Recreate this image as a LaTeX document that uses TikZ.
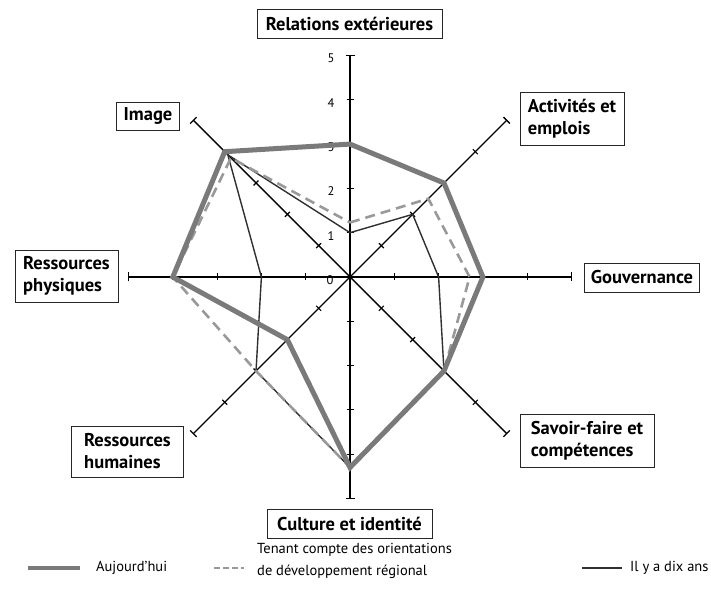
\documentclass[tikz,border=0pt]{standalone}
\usepackage{fontspec}
\setmainfont{PT Sans}
\usetikzlibrary{calc}
\definecolor{nowgray}{HTML}{7A7A7A}
\definecolor{plangray}{HTML}{999999}
\definecolor{pastgray}{HTML}{303030}
\begin{document}
\begin{tikzpicture}[x=1pt,y=1pt,
  lbl/.style={draw=black!85, line width=0.8pt, fill=white,
    font=\bfseries\fontsize{18.5}{22}\selectfont, align=left,
    inner xsep=5pt, inner ysep=3pt},
  axisline/.style={line width=1.4pt, black},
  tickline/.style={line width=1.2pt, black},
  numlbl/.style={font=\fontsize{12.5}{14}\selectfont, inner sep=0pt},
  nowline/.style={line width=5pt, nowgray},
  planline/.style={line width=2.6pt, plangray, dash pattern=on 10pt off 6pt},
  pastline/.style={line width=1.4pt, pastgray},
  legtxt/.style={font=\fontsize{14.5}{22}\selectfont, align=left, inner sep=0pt, anchor=west}
]
\useasboundingbox (0,0) rectangle (711,609);
\def\u{44.3}
\coordinate (O) at (350,332);

% axes
\foreach \a/\n [evaluate=\a as \ap using \a+90, evaluate=\a as \am using \a-90] in {90/N,45/NE,0/E,-45/SE,-90/S,-135/SW,180/W,135/NW} {
  \coordinate (end\n) at ($(O)+(\a:5*\u)$);
  \draw[axisline] (O) -- (end\n);
  \draw[axisline] ($(end\n)+(\ap:4.5)$) -- ($(end\n)+(\am:4.5)$);
  \foreach \k in {1,...,4}
    \draw[tickline] ($(O)+(\a:\k*\u)+(\ap:3.5)$) -- ($(O)+(\a:\k*\u)+(\am:3.5)$);
}

% axis numbers
\foreach \k in {1,...,5}
  \node[numlbl] (num\k) at ($(O)+(-19,\k*\u-3)$) {\k};
\node[numlbl] (num0) at ($(O)+(-20,-3)$) {0};

% data points
\foreach \a/\n/\vnow/\vplan/\vpast in {90/N/3/1.23/1,45/NE/3/2.5/2,0/E/3/2.7/2,-45/SE/3/3/3,-90/S/4.3/4.3/4.3,-135/SW/2/3/3,180/W/4/4/2,135/NW/4/3.8/3.9} {
  \coordinate (now\n) at ($(O)+(\a:\vnow*\u)$);
  \coordinate (plan\n) at ($(O)+(\a:\vplan*\u)$);
  \coordinate (past\n) at ($(O)+(\a:\vpast*\u)$);
}

\draw[pastline] (pastN) -- (pastNE) -- (pastE) -- (pastSE) -- (pastS) -- (pastSW) -- (pastW) -- (pastNW) -- cycle;
\draw[planline] (planN) -- (planNE) -- (planE) -- (planSE) -- (planS) -- (planSW) -- (planW) -- (planNW) -- cycle;
\draw[nowline] (nowN) -- (nowNE) -- (nowE) -- (nowSE) -- (nowS) -- (nowSW) -- (nowW) -- (nowNW) -- cycle;

% axis labels
\node[lbl, minimum width=185pt, minimum height=29pt] (lN) at (349.5,585.5) {Relations extérieures};
\node[lbl, minimum width=104pt, minimum height=53pt] (lNE) at (572,490) {Activités et\\emplois};
\node[lbl, minimum width=115pt, minimum height=29pt] (lE) at (642,331.5) {Gouvernance};
\node[lbl, minimum width=134pt, minimum height=53pt] (lSE) at (587,168) {Savoir-faire et\\compétences};
\node[lbl, minimum width=165pt, minimum height=29pt] (lS) at (349.5,85.5) {Culture et identité};
\node[lbl, minimum width=112pt, minimum height=51pt] (lSW) at (127.5,157.5) {Ressources\\humaines};
\node[lbl, minimum width=103pt, minimum height=52pt] (lW) at (66.5,333) {Ressources\\physiques};
\node[lbl, minimum width=63pt, minimum height=28pt] (lNW) at (148,493) {Image};

% legend
\coordinate (g1a) at (28,41); \coordinate (g1b) at (80,41);
\draw[nowline, line width=4pt] (g1a) -- (g1b);
\node[legtxt] (t1) at (96,41) {Aujourd’hui};
\coordinate (g2a) at (214,41); \coordinate (g2b) at (244,41);
\draw[planline, line width=2pt, dash pattern=on 6pt off 3pt] (g2a) -- (g2b);
\node[legtxt] (t2) at (257,48) {Tenant compte des orientations\\de développement régional};
\coordinate (g3a) at (582,41); \coordinate (g3b) at (622,41);
\draw[pastline] (g3a) -- (g3b);
\node[legtxt] (t3) at (630,41) {Il y a dix ans};
\end{tikzpicture}
\end{document}
